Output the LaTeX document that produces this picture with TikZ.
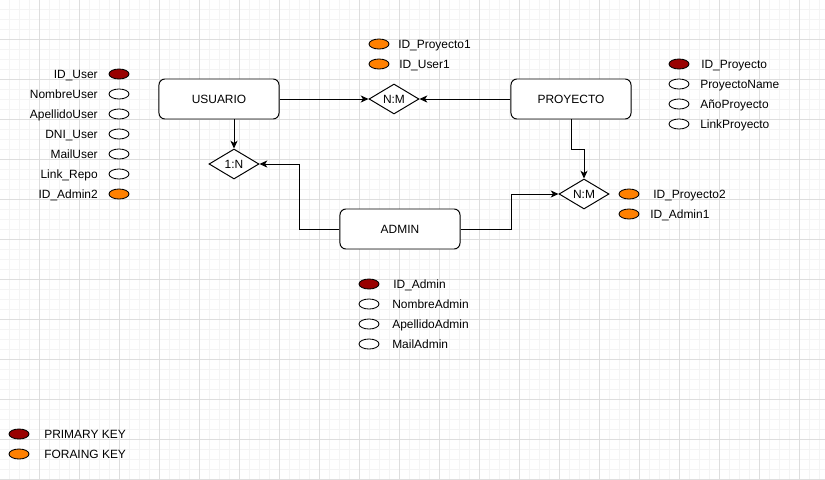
\documentclass[tikz,border=0pt]{standalone}
\usepackage{fontspec}
\setmainfont{Liberation Sans}
\usepackage{tikz}
\usetikzlibrary{shapes.geometric,arrows.meta}
\definecolor{PK}{RGB}{153,0,0}
\definecolor{FK}{RGB}{255,128,0}
\definecolor{gridminor}{RGB}{244,244,244}
\definecolor{gridmajor}{RGB}{222,222,222}
\tikzset{
  entity/.style={draw, rounded corners=0.15cm, fill=white, minimum width=3cm, minimum height=1cm, line width=0.7pt},
  relation/.style={draw, diamond, fill=white, aspect=1.6667, minimum width=1.25cm, minimum height=0.75cm, inner sep=0pt, line width=0.7pt},
  attrdot/.style={draw, ellipse, minimum width=0.5cm, minimum height=0.25cm, inner sep=0pt, line width=0.6pt},
  attrtext/.style={inner sep=0pt, text height=6.1pt, text depth=0pt},
  conn/.style={line width=0.7pt, -{Stealth[length=5.5pt,width=5pt,inset=1.5pt]}}
}
% attribute with label on the left (ellipse name, x, y, fill, text)
\newcommand{\attrleft}[5]{
  \node[attrdot, fill=#4] (#1) at (#2,#3) {};
  \node[attrtext, anchor=east] (#1-t) at (#2-21,#3) {#5};
}
% attribute with label on the right (ellipse name, x, y, fill, text x, text)
\newcommand{\attrright}[6]{
  \node[attrdot, fill=#4] (#1) at (#2,#3) {};
  \node[attrtext, anchor=west] (#1-t) at (#5,#3) {#6};
}
\newcommand{\drawgridlines}{
    \foreach \x in {9,19,...,819}{
      \draw[gridminor, line width=0.4pt] (\x,0)--(\x,480);
    }
    \foreach \y in {9,19,...,479}{
      \draw[gridminor, line width=0.4pt] (0,\y)--(825,\y);
    }
    \foreach \x in {39,79,...,799}{
      \draw[gridmajor, line width=0.5pt] (\x,0)--(\x,480);
    }
    \foreach \y in {39,79,...,479}{
      \draw[gridmajor, line width=0.5pt] (0,\y)--(825,\y);
    }
}

\begin{document}
\begin{tikzpicture}[x=0.025cm, y=-0.025cm, font=\fontsize{8.5}{10}\selectfont]
\useasboundingbox (0,0) rectangle (825,480);
\fill[white] (0,0) rectangle (825,480);
\drawgridlines
% entities and relations
\node[entity] (usuario) at (219,99) {USUARIO};
\node[entity] (proyecto) at (571,99) {PROYECTO};
\node[entity] (admin) at (400,229) {ADMIN};
\node[relation] (nmtop) at (394,99) {N:M};
\node[relation] (onen) at (234,164) {1:N};
\node[relation] (nmbot) at (584,194) {N:M};
% connectors
\draw[conn] (usuario.east) -- (nmtop.west);
\draw[conn] (proyecto.west) -- (nmtop.east);
\draw[conn] (usuario.south -| onen.north) -- (onen.north);
\draw[conn] (admin.west) -- ++(-40,0) |- (onen.east);
\draw[conn] (proyecto.south) -- ++(0,30) -| (nmbot.north);
\draw[conn] (admin.east) -- ++(51,0) |- (nmbot.west);
% USUARIO attributes
\attrleft{iduser}{119}{74}{PK}{ID\_User}
\attrleft{nombreuser}{119}{94}{white}{NombreUser}
\attrleft{apellidouser}{119}{114}{white}{ApellidoUser}
\attrleft{dniuser}{119}{134}{white}{DNI\_User}
\attrleft{mailuser}{119}{154}{white}{MailUser}
\attrleft{linkrepo}{119}{174}{white}{Link\_Repo}
\attrleft{idadmintwo}{119}{194}{FK}{ID\_Admin2}
% N:M (usuario-proyecto) attributes
\attrright{idproyectoone}{379}{44}{FK}{398}{ID\_Proyecto1}
\attrright{iduserone}{379}{64}{FK}{399}{ID\_User1}
% PROYECTO attributes
\attrright{idproyecto}{679}{64}{PK}{701}{ID\_Proyecto}
\attrright{proyectoname}{679}{84}{white}{700}{ProyectoName}
\attrright{anoproyecto}{679}{104}{white}{700}{AñoProyecto}
\attrright{linkproyecto}{679}{124}{white}{700}{LinkProyecto}
% N:M (admin-proyecto) attributes
\attrright{idproyectotwo}{629}{194}{FK}{653}{ID\_Proyecto2}
\attrright{idadminone}{629}{214}{FK}{650}{ID\_Admin1}
% ADMIN attributes
\attrright{idadmin}{369}{284}{PK}{393}{ID\_Admin}
\attrright{nombreadmin}{369}{304}{white}{392}{NombreAdmin}
\attrright{apellidoadmin}{369}{324}{white}{392}{ApellidoAdmin}
\attrright{mailadmin}{369}{344}{white}{392}{MailAdmin}
% legend
\attrright{legendpk}{19}{434}{PK}{44}{PRIMARY KEY}
\attrright{legendfk}{19}{454}{FK}{44}{FORAING KEY}
\end{tikzpicture}
\end{document}
